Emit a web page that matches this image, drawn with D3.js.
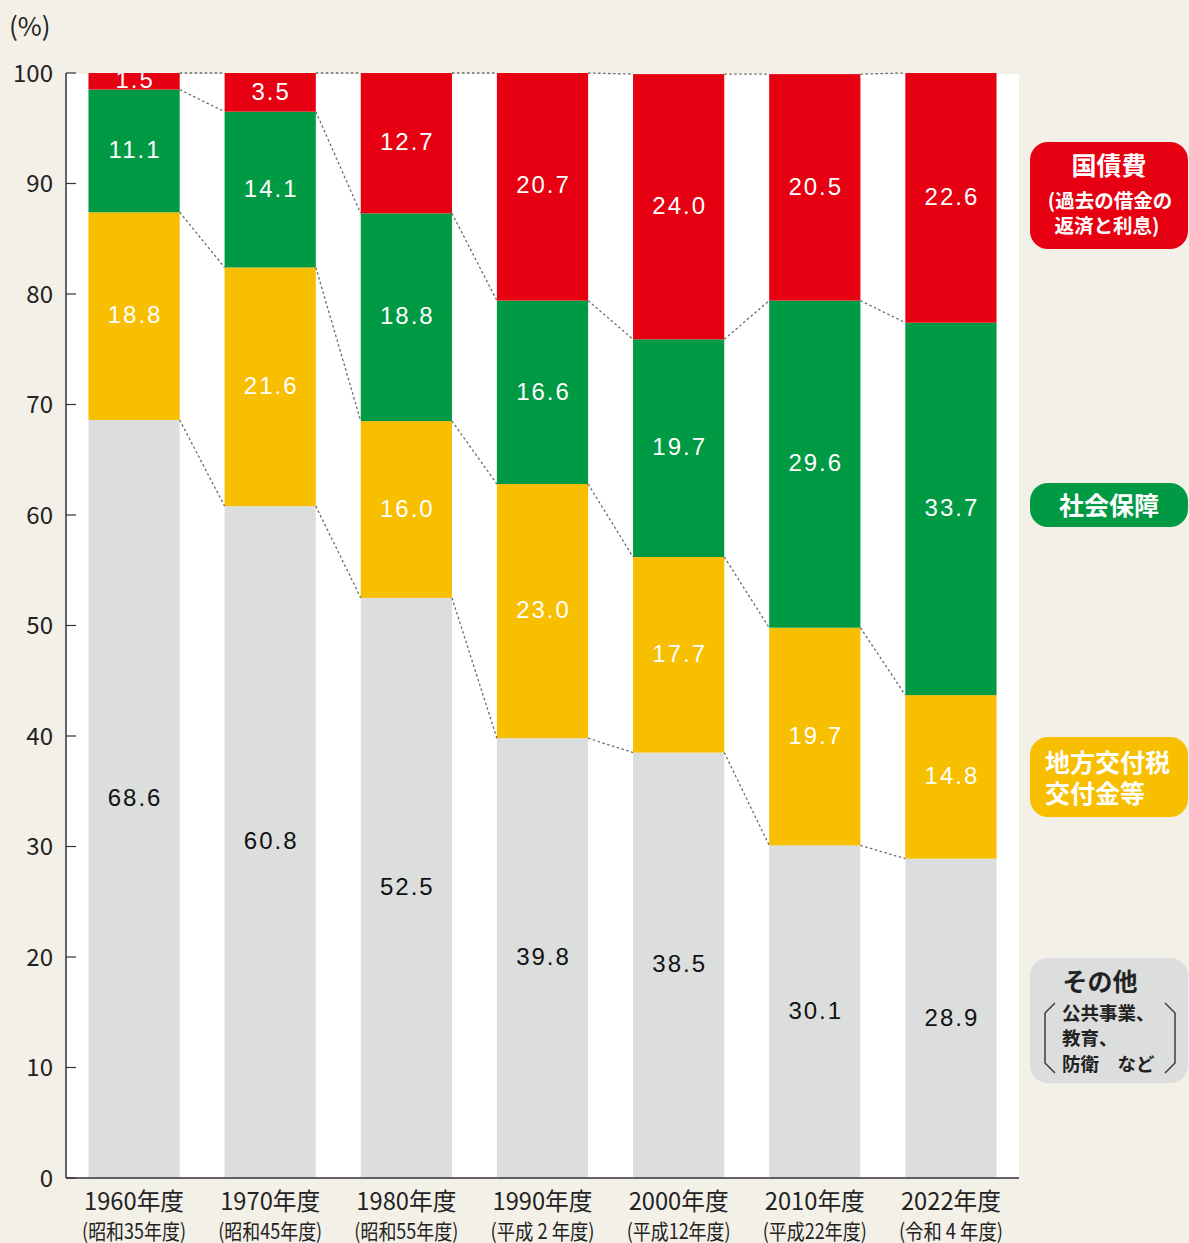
<!DOCTYPE html>
<html>
<head>
<meta charset="utf-8">
<script src="https://cdn.jsdelivr.net/npm/d3@7"></script>
<style>
  html, body { margin: 0; padding: 0; background: #f3f0e8; }
  svg { display: block; }
  .tick-label { font-family: "Noto Sans CJK JP", "Noto Sans", sans-serif; font-size: 23px; fill: #222; }
  .value { font-family: "Liberation Sans", Arial, sans-serif; font-size: 24px; letter-spacing: 2px; }
  .legend { font-family: "Noto Sans CJK JP", sans-serif; font-weight: 700; }
</style>
</head>
<body>
<svg id="chart"></svg>
<script>
// data
var years = ["1960年度", "1970年度", "1980年度", "1990年度", "2000年度", "2010年度", "2022年度"];
var eras = ["(昭和35年度)", "(昭和45年度)", "(昭和55年度)", "(平成 2 年度)", "(平成12年度)", "(平成22年度)", "(令和 4 年度)"];
var otherValues = [68.6, 60.8, 52.5, 39.8, 38.5, 30.1, 28.9];
var localValues = [18.8, 21.6, 16.0, 23.0, 17.7, 19.7, 14.8];
var socialValues = [11.1, 14.1, 18.8, 16.6, 19.7, 29.6, 33.7];
var debtValues = [1.5, 3.5, 12.7, 20.7, 24.0, 20.5, 22.6];
var yTicks = [0, 10, 20, 30, 40, 50, 60, 70, 80, 90, 100];
var keys = ["other", "local", "social", "debt"];
var colors = { other: "#dcdddd", local: "#f8be00", social: "#009a44", debt: "#e60012" };

var width = 1189;
var height = 1243;
var plot = { left: 66, right: 1019, top: 73, bottom: 1178 };

var rows = years.map(function(y, i) {
  return { year: y, other: otherValues[i], local: localValues[i], social: socialValues[i], debt: debtValues[i] };
});

var svg = d3.select("#chart")
  .attr("width", width)
  .attr("height", height);

var x = d3.scaleBand()
  .domain(years)
  .range([plot.left, plot.right])
  .paddingInner(0.33)
  .paddingOuter(0.165);

var y = d3.scaleLinear()
  .domain([0, 100])
  .range([plot.bottom, plot.top])
  .clamp(true);

var layers = d3.stack().keys(keys)(rows);

// white plot area
svg.append("rect")
  .attr("x", plot.left)
  .attr("y", plot.top + 1)
  .attr("width", plot.right - plot.left)
  .attr("height", plot.bottom - plot.top - 1)
  .attr("fill", "#fff");

var defs = svg.append("defs");

// bars
var layerG = svg.selectAll("g.layer")
  .data(layers)
  .enter()
  .append("g")
    .attr("class", "layer")
    .attr("fill", d => colors[d.key]);

layerG.selectAll("rect")
  .data(d => d)
  .enter()
  .append("rect")
    .attr("x", d => x(d.data.year))
    .attr("y", d => y(d[1]))
    .attr("width", x.bandwidth())
    .attr("height", d => y(d[0]) - y(d[1]));

// dotted connectors between bars
layers.forEach(function(layer) {
  for (var i = 0; i < layer.length - 1; i++) {
    svg.append("line")
      .attr("x1", x(years[i]) + x.bandwidth())
      .attr("y1", y(layer[i][1]))
      .attr("x2", x(years[i + 1]))
      .attr("y2", y(layer[i + 1][1]))
      .attr("stroke", "#6b6b6b")
      .attr("stroke-width", 1.3)
      .attr("stroke-dasharray", "2.5,2.5");
  }
});

// value labels, clipped to their segment
layers.forEach(function(layer, k) {
  layer.forEach(function(d, i) {
    var id = "clip-" + k + "-" + i;
    defs.append("clipPath")
      .attr("id", id)
      .append("rect")
        .attr("x", x(d.data.year))
        .attr("y", y(d[1]))
        .attr("width", x.bandwidth())
        .attr("height", y(d[0]) - y(d[1]));
    svg.append("text")
      .attr("class", "value")
      .attr("clip-path", "url(#" + id + ")")
      .attr("x", x(d.data.year) + x.bandwidth() / 2 + 1)
      .attr("y", y((d[0] + d[1]) / 2))
      .attr("dy", "0.3em")
      .attr("text-anchor", "middle")
      .attr("fill", layer.key === "other" ? "#111" : "#fff")
      .text(d.data[layer.key].toFixed(1));
  });
});

// y axis
var yAxis = svg.append("g");
yAxis.append("line")
  .attr("x1", plot.left).attr("x2", plot.left)
  .attr("y1", plot.top).attr("y2", plot.bottom)
  .attr("stroke", "#333").attr("stroke-width", 1.5);
yAxis.selectAll("line.tick")
  .data(yTicks)
  .enter()
  .append("line")
    .attr("class", "tick")
    .attr("x1", plot.left).attr("x2", plot.left + 10)
    .attr("y1", d => y(d)).attr("y2", d => y(d))
    .attr("stroke", "#333").attr("stroke-width", 1.2);
yAxis.selectAll("text")
  .data(yTicks)
  .enter()
  .append("text")
    .attr("class", "tick-label")
    .attr("x", 53)
    .attr("y", d => y(d))
    .attr("dy", "0.36em")
    .attr("text-anchor", "end")
    .style("font-size", "24px")
    .text(d => d);

svg.append("text")
  .attr("class", "tick-label")
  .attr("x", 9)
  .attr("y", 36)
  .style("font-size", "26px")
  .text("(%)");

// x axis
svg.append("line")
  .attr("x1", plot.left).attr("x2", plot.right)
  .attr("y1", plot.bottom).attr("y2", plot.bottom)
  .attr("stroke", "#333").attr("stroke-width", 1.5);

svg.selectAll("text.year")
  .data(years)
  .enter()
  .append("text")
    .attr("class", "tick-label year")
    .attr("x", d => x(d) + x.bandwidth() / 2)
    .attr("y", 1210)
    .attr("text-anchor", "middle")
    .attr("textLength", 100)
    .attr("lengthAdjust", "spacingAndGlyphs")
    .style("font-size", "24px")
    .text(d => d);

svg.selectAll("text.era")
  .data(eras)
  .enter()
  .append("text")
    .attr("class", "tick-label era")
    .attr("x", (d, i) => x(years[i]) + x.bandwidth() / 2)
    .attr("y", 1239)
    .attr("text-anchor", "middle")
    .attr("textLength", 104)
    .attr("lengthAdjust", "spacingAndGlyphs")
    .style("font-size", "21px")
    .text(d => d);

// legend
var legendBoxes = [
  { key: "debt", y: 142, h: 107 },
  { key: "social", y: 483, h: 44 },
  { key: "local", y: 737, h: 80 },
  { key: "other", y: 958, h: 125 }
];
legendBoxes.forEach(function(b) {
  svg.append("rect")
    .attr("x", 1030).attr("y", b.y)
    .attr("width", 158).attr("height", b.h)
    .attr("rx", 18).attr("ry", 18)
    .attr("fill", colors[b.key]);
});

function legendText(str, lx, ly, size, anchor, fill) {
  svg.append("text")
    .attr("class", "legend")
    .attr("x", lx).attr("y", ly)
    .attr("text-anchor", anchor)
    .attr("fill", fill)
    .style("font-size", size + "px")
    .text(str);
}

legendText("国債費", 1109, 175, 25, "middle", "#fff");
legendText("(過去の借金の", 1110, 208, 19.5, "middle", "#fff");
legendText("返済と利息)", 1107, 233, 19.5, "middle", "#fff");
legendText("社会保障", 1109, 515, 25, "middle", "#fff");
legendText("地方交付税", 1045, 772, 25, "start", "#fff");
legendText("交付金等", 1045, 803, 25, "start", "#fff");
legendText("その他", 1100, 991, 25, "middle", "#222");
legendText("公共事業、", 1062, 1020, 18.5, "start", "#222");
legendText("教育、", 1062, 1045, 18.5, "start", "#222");
legendText("防衛　など", 1062, 1071, 18.5, "start", "#222");

svg.append("path")
  .attr("d", "M1055,1003 L1045,1013 L1045,1063 L1055,1073 M1165,1003 L1175,1013 L1175,1063 L1165,1073")
  .attr("fill", "none")
  .attr("stroke", "#333")
  .attr("stroke-width", 1.4);
</script>
</body>
</html>
